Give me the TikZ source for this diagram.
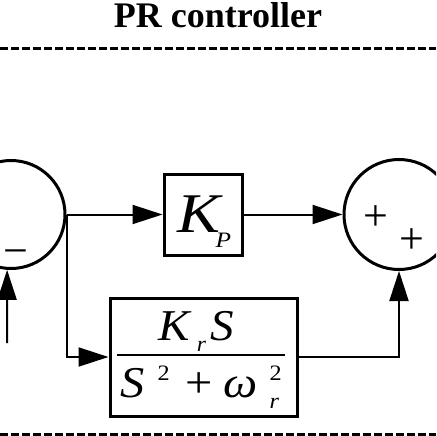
\documentclass[tikz,border=0pt]{standalone}
\usepackage{fontspec}
\setmainfont{Liberation Serif}
\usepackage{tikz}
\usetikzlibrary{arrows.meta}

\newcommand{\lowidx}[1]{\raisebox{-11pt}{\fontsize{22}{22}\selectfont\itshape #1}}
\newcommand{\highidx}[1]{\raisebox{17pt}{\fontsize{22}{22}\selectfont\upshape #1}}

\tikzset{
    sumnode/.style={draw, circle, line width=3pt, inner sep=0pt},
    blockbox/.style={draw, rectangle, line width=3pt, inner sep=0pt},
    signtext/.style={font=\fontsize{44}{44}\selectfont, inner sep=0pt},
    link/.style={line width=2pt, -{Triangle[length=30pt,width=19pt]}},
    frame/.style={line width=3pt, dash pattern=on 8pt off 3pt}
}

\begin{document}
\begin{tikzpicture}[x=1pt, y=-1pt]
    \clip (0,0) rectangle (436,436);

    \coordinate (in) at (7,343);

    \node[sumnode, minimum size=108pt] (sumL) at (11,214.5) {};
    \node[sumnode, minimum size=110pt] (sumR) at (399,214.5) {};
    \node[blockbox, minimum width=78pt, minimum height=81pt] (kp) at (203,214.5) {};
    \node[blockbox, minimum width=187pt, minimum height=118pt] (kr) at (203.5,357) {};

    \node[font=\fontsize{36}{36}\selectfont\bfseries, anchor=base] (title) at (218,28) {PR controller};
    \node[font=\fontsize{56}{56}\selectfont\itshape, anchor=base west, inner sep=0pt] (kptext) at (177,232)
        {\scalebox{1.15}[1]{K\hspace{-4pt}\raisebox{-15pt}{\fontsize{22}{22}\selectfont P}}};
    \node[font=\fontsize{44}{44}\selectfont, anchor=base west, inner sep=0pt] (krnum) at (158,340)
        {\scalebox{1.07}[1]{\textit{K}\hspace{5pt}\lowidx{r}\hspace{4pt}\textit{S}}};
    \node[font=\fontsize{44}{44}\selectfont, anchor=base west, inner sep=0pt] (krden) at (120,397)
        {\scalebox{1.1}[1]{\textit{S}\hspace{12pt}\highidx{2}\hspace{14pt}+\hspace{10pt}\textit{ω}\hspace{11pt}\rlap{\highidx{2}}\lowidx{r}}};
    \draw[line width=2pt] (117,355) -- (285,355);

    \node[signtext] (minus) at (15.5,258) {−};
    \node[signtext] (plusA) at (375.5,218) {+};
    \node[signtext] (plusB) at (412,241) {+};

    \draw[link] (sumL.east) -- (kp.west);
    \draw[link] (kp.east) -- (sumR.west);
    \draw[link] (sumL.east) |- (kr.west);
    \draw[link] (kr.east) -| (sumR.south);
    \draw[link] (in) -- (sumL.-94);

    \draw[frame] (0,48.5) -- (436,48.5);
    \draw[frame] (0,434.5) -- (436,434.5);
\end{tikzpicture}
\end{document}
